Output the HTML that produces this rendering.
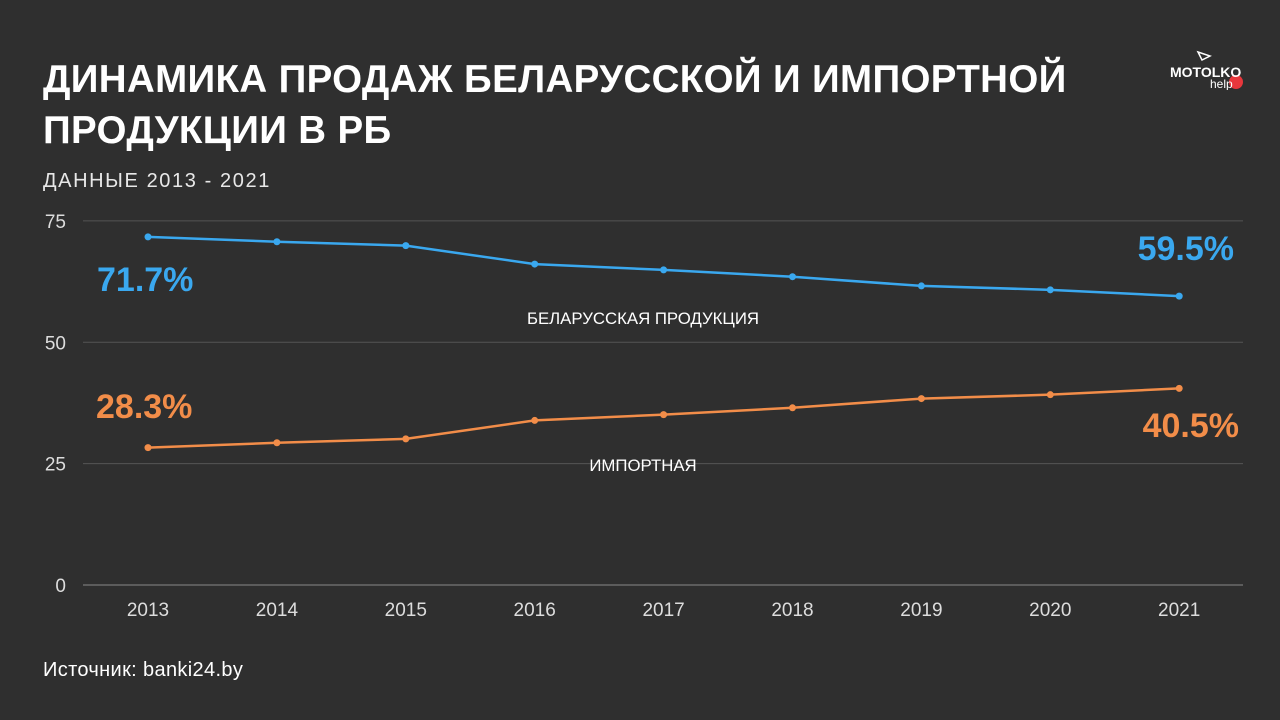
<!DOCTYPE html>
<html><head><meta charset="utf-8"><style>
body{margin:0;width:1280px;height:720px;background:#2f2f2f;overflow:hidden;font-family:"Liberation Sans",sans-serif;color:#fff}
.t{position:absolute;left:43px;top:54px;font-size:38.5px;font-weight:bold;line-height:51px;letter-spacing:0.35px}
.s{position:absolute;left:43px;top:170px;font-size:20px;color:#e8e8e8;letter-spacing:1.6px}
.src{position:absolute;left:43px;top:659px;font-size:20px;letter-spacing:0.35px}
</style></head><body>
<div class="t">ДИНАМИКА ПРОДАЖ БЕЛАРУССКОЙ И ИМПОРТНОЙ<br>ПРОДУКЦИИ В РБ</div>
<div class="s">ДАННЫЕ 2013 - 2021</div>
<div class="src">Источник: banki24.by</div>
<div style="position:absolute;left:1168px;top:50px;width:80px;height:40px">
<svg width="80" height="40"><path d="M30 2 L42 6 L34 10 Z" fill="none" stroke="#fff" stroke-width="1.5"/><circle cx="68" cy="32" r="7" fill="#e8373c"/>
<text x="2" y="27" font-size="14" font-weight="bold" fill="#fff" font-family="Liberation Sans">MOTOLKO</text>
<text x="42" y="38" font-size="12" fill="#fff" font-family="Liberation Sans">help</text></svg></div>
<svg id="c" width="1280" height="720" style="position:absolute;left:0;top:0"></svg>
<script>
const years=["2013","2014","2015","2016","2017","2018","2019","2020","2021"];
const belarus=[71.7,70.7,69.9,66.1,64.9,63.5,61.6,60.8,59.5];
const imports=[28.3,29.3,30.1,33.9,35.1,36.5,38.4,39.2,40.5];
const yTicks=[0,25,50,75];
const svg=document.getElementById('c');const NS='http://www.w3.org/2000/svg';
const X=i=>148+i*128.9, Y=v=>585-v*4.855;
function el(t,a,p){const e=document.createElementNS(NS,t);for(const k in a)e.setAttribute(k,a[k]);(p||svg).appendChild(e);return e;}
yTicks.forEach(v=>{
 const l=el('line',{x1:83,x2:1243,y1:Y(v),y2:Y(v),stroke:v==0?'#888':'#555','stroke-width':1});
 
 
 const t=el('text',{x:66,y:Y(v)+7,'text-anchor':'end','font-size':19,fill:'#ddd','font-family':'Liberation Sans'});t.textContent=v;
 
 
});
years.forEach((y,i)=>{const t=el('text',{x:X(i),y:616,'text-anchor':'middle','font-size':19,fill:'#ddd','font-family':'Liberation Sans'});t.textContent=y;
 
 });
function series(d,c,n){
 const p=el('polyline',{points:d.map((v,i)=>X(i)+','+Y(v)).join(' '),fill:'none',stroke:c,'stroke-width':2.5});
 
 
 d.forEach((v,i)=>{const q=el('circle',{cx:X(i),cy:Y(v),r:3.5,fill:c});
 
 });
}
series(belarus,'#3aa8ef','belarus');series(imports,'#f28d49','imports');
function lab(x,y,s,c,fs,w,n,a){const t=el('text',{x:x,y:y,'font-size':fs,'font-weight':w,fill:c,'font-family':'Liberation Sans','text-anchor':a||'start'});t.textContent=s;
 
 }
lab(97,291,belarus[0]+'%','#3aa8ef',34,'bold','belarus-start-label');
lab(1234,260,belarus[8]+'%','#3aa8ef',34,'bold','belarus-end-label','end');
lab(96,418,imports[0]+'%','#f28d49',34,'bold','imports-start-label');
lab(1239,437,imports[8]+'%','#f28d49',34,'bold','imports-end-label','end');
lab(643,324,'БЕЛАРУССКАЯ ПРОДУКЦИЯ','#fff',16.8,'normal','belarus-series-label','middle');
lab(643,471,'ИМПОРТНАЯ','#fff',16.8,'normal','imports-series-label','middle');
</script>
</body></html>
